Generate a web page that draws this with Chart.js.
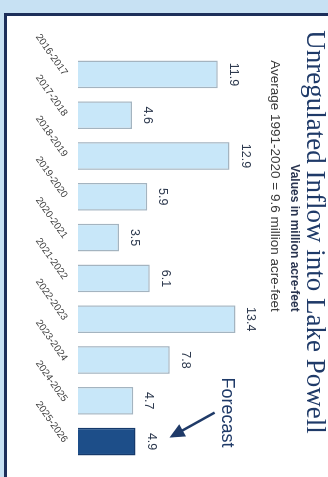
<!DOCTYPE html>
<html>
<head>
<meta charset="utf-8">
<script src="https://cdn.jsdelivr.net/npm/chart.js@4.4.0/dist/chart.umd.min.js"></script>
<style>
  html, body { margin:0; padding:0; width:328px; height:477px; overflow:hidden; background:#c7e1f3; }
  .panel { position:absolute; left:4px; top:13px; right:0; bottom:0; background:#fff;
           border-left:3px solid #1d2f5a; border-top:3px solid #1d2f5a; }
  /* the chart is drawn landscape and then turned a quarter turn clockwise */
  .wrap { position:absolute; left:0; top:0; width:477px; height:328px;
          transform-origin:0 0; transform:translate(328px,0) rotate(90deg); }
</style>
</head>
<body>
<div class="panel"></div>
<div class="wrap"><canvas id="myChart" width="477" height="328"></canvas></div>
<script>
// water years and unregulated inflow (million acre-feet)
const water_years = ["2016-2017","2017-2018","2018-2019","2019-2020","2020-2021",
                     "2021-2022","2022-2023","2023-2024","2024-2025","2025-2026"]
const inflow = [11.9, 4.6, 12.9, 5.9, 3.5, 6.1, 13.4, 7.8, 4.7, 4.9]
const is_forecast = [false,false,false,false,false,false,false,false,false,true]

const chart_title = "Unregulated Inflow into Lake Powell"
const sub_title = "Values in million acre-feet"
const avg_note = "Average 1991-2020 = 9.6 million acre-feet"
const forecast_note = "Forecast"

function bar_fill(i){
  if(is_forecast[i]){ return "#1d4e89" }
  else { return "#c8e7f9" }
}
function bar_line(i){
  if(is_forecast[i]){ return "#15396b" }
  else { return "#a4b4c0" }
}

// headings + value labels + forecast arrow
const extras = {
  id: 'extras',
  afterDraw(chart) {
    const ctx = chart.ctx
    ctx.save()
    ctx.textAlign = 'center'
    ctx.textBaseline = 'alphabetic'

    ctx.fillStyle = '#1f3a68'
    ctx.font = '27px "Liberation Serif"'
    ctx.fillText(chart_title, 232, 21)

    ctx.fillStyle = '#2a3550'
    ctx.font = 'bold 12px "Liberation Sans"'
    ctx.fillText(sub_title, 238, 37)

    ctx.fillStyle = '#3a3a3a'
    ctx.font = '13.5px "Liberation Sans"'
    ctx.fillText(avg_note, 186, 57)

    const meta = chart.getDatasetMeta(0)
    ctx.fillStyle = '#2e3a4f'
    ctx.font = '12.5px "Liberation Sans"'
    meta.data.forEach((bar, i) => {
      ctx.fillText(inflow[i].toFixed(1), bar.x, bar.y - 12)
    })

    // arrow pointing at the forecast bar
    const last = meta.data[meta.data.length - 1]
    const tx = last.x - 4, ty = last.y - 34
    const sx = last.x - 29, sy = last.y - 79
    const ang = Math.atan2(ty - sy, tx - sx)
    const head = 15
    ctx.strokeStyle = '#1f3a68'
    ctx.fillStyle = '#1f3a68'
    ctx.lineWidth = 2.5
    ctx.beginPath()
    ctx.moveTo(sx, sy)
    ctx.lineTo(tx - Math.cos(ang) * head * 0.8, ty - Math.sin(ang) * head * 0.8)
    ctx.stroke()
    ctx.beginPath()
    ctx.moveTo(tx, ty)
    ctx.lineTo(tx - head * Math.cos(ang) + 7 * Math.sin(ang), ty - head * Math.sin(ang) - 7 * Math.cos(ang))
    ctx.lineTo(tx - head * Math.cos(ang) - 7 * Math.sin(ang), ty - head * Math.sin(ang) + 7 * Math.cos(ang))
    ctx.closePath()
    ctx.fill()

    ctx.font = '18px "Liberation Sans"'
    ctx.fillText(forecast_note, last.x - 29, last.y - 86)
    ctx.restore()
  }
}

const ctx1 = document.querySelector('#myChart')

new Chart(ctx1, {
  type: 'bar',
  data: {
    labels: water_years,
    datasets: [{
      label: 'Unregulated inflow',
      data: inflow,
      backgroundColor: inflow.map((v, i) => bar_fill(i)),
      borderColor: inflow.map((v, i) => bar_line(i)),
      borderWidth: 1.5,
      barPercentage: 0.68,
      categoryPercentage: 1
    }]
  },
  options: {
    responsive: false,
    animation: false,
    devicePixelRatio: 1,
    layout: { padding: { top: 62, left: 54, right: 15, bottom: 0 } },
    plugins: {
      legend: { display: false },
      title: { display: false },
      tooltip: { enabled: false }
    },
    scales: {
      x: {
        grid: { display: false, drawTicks: false },
        border: { display: false },
        ticks: {
          minRotation: 35,
          maxRotation: 35,
          padding: 8,
          color: '#3a3a3a',
          font: { family: 'Liberation Sans', size: 10 }
        },
        afterFit: function(scale) { scale.height = 78 }
      },
      y: {
        display: false,
        min: 0,
        max: 16
      }
    }
  },
  plugins: [extras]
})
</script>
</body>
</html>
